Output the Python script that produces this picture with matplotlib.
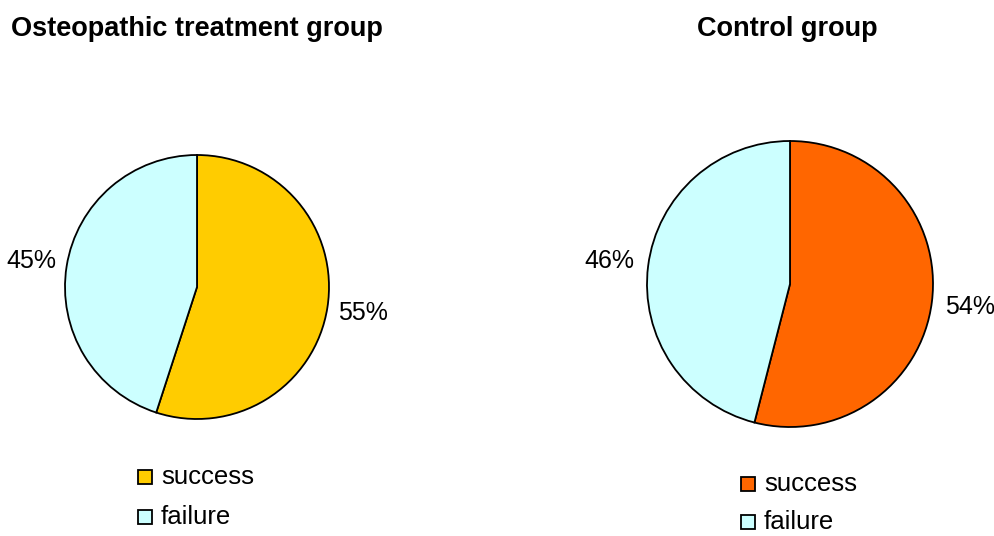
import numpy as np
import matplotlib.pyplot as plt

plt.rcParams['font.family'] = ['Liberation Sans', 'DejaVu Sans']

labels = ['success', 'failure']
treatment_pct = [55, 45]
control_pct = [54, 46]
treatment_colors = ['#FFCC00', '#CCFFFF']
control_colors = ['#FF6600', '#CCFFFF']

W, H = 994, 536
fig = plt.figure(figsize=(W / 100, H / 100), dpi=100)


def draw_group(cx, cy, r, values, colors, title, title_x, legend_y, legend_x, spacing):
    # axes box in pixels, square around the pie
    ax = fig.add_axes([(cx - r) / W, (H - cy - r) / H, 2 * r / W, 2 * r / H])
    wedges, _ = ax.pie(values, colors=colors, startangle=90, counterclock=False,
                       wedgeprops=dict(edgecolor='black', linewidth=1.3))
    for w, v in zip(wedges, values):
        ang = np.deg2rad((w.theta1 + w.theta2) / 2)
        ax.text(1.27 * np.cos(ang), 1.27 * np.sin(ang), f'{v}%',
                ha='center', va='center', fontsize=18)
    ax.set_xlim(-1, 1)
    ax.set_ylim(-1, 1)
    ax.axis('off')
    fig.text(title_x / W, 1 - 29 / H, title, ha='center', va='center',
             fontsize=19.5, fontweight='bold')
    # legend: small squares with labels
    for i, (lab, col) in enumerate(zip(labels, colors)):
        y = legend_y + i * spacing
        fig.patches.append(plt.Rectangle((legend_x / W, 1 - (y + 7) / H), 14 / W, 14 / H,
                                         transform=fig.transFigure, facecolor=col,
                                         edgecolor='black', linewidth=1.3))
        fig.text((legend_x + 23) / W, 1 - y / H, lab, ha='left', va='center', fontsize=18.5)


draw_group(197, 287, 132, treatment_pct, treatment_colors,
           'Osteopathic treatment group', 197, 477, 138, 40)
draw_group(790, 284, 143, control_pct, control_colors,
           'Control group', 787, 484, 741, 38)

fig.savefig('out.png', dpi=100)
